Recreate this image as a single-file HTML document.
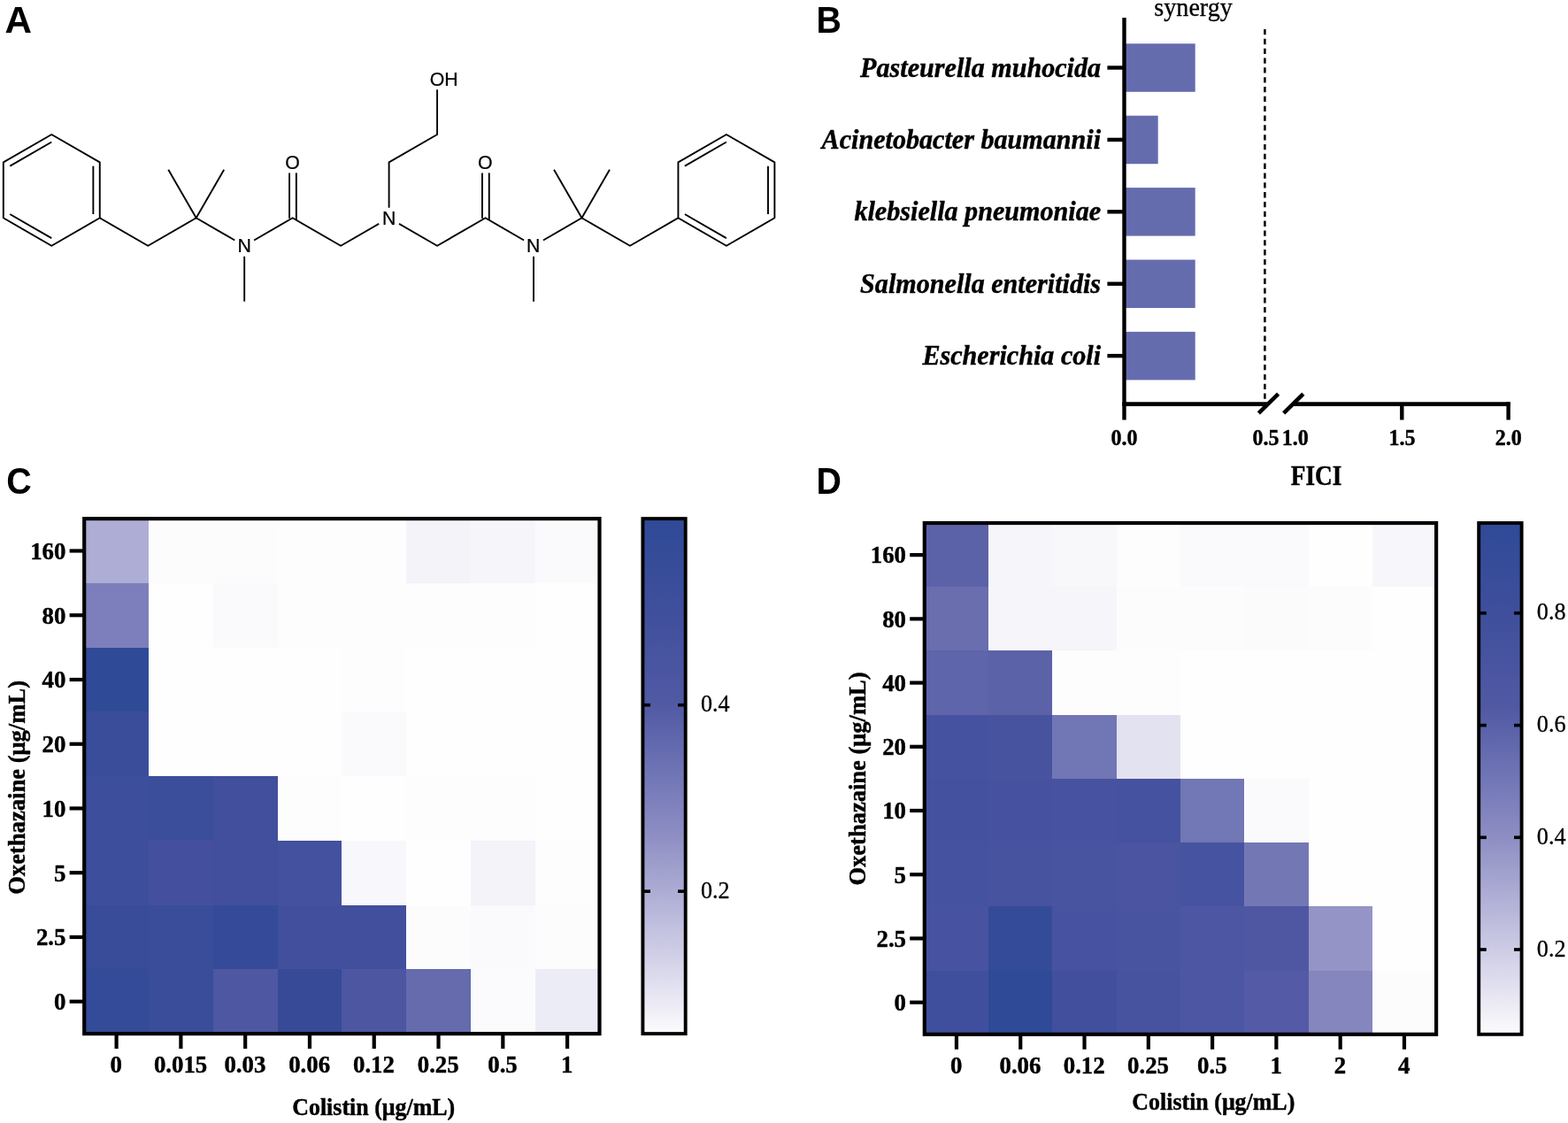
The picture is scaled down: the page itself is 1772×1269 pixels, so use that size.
<!DOCTYPE html>
<html lang="en">
<head>
<meta charset="utf-8">
<title>Figure</title>
<style>
html,body{margin:0;padding:0;background:#fff;}
body{width:1772px;height:1269px;overflow:hidden;}
svg{display:block;}
text{fill:#000;}
</style>
</head>
<body>
<svg width="1772" height="1269" viewBox="0 0 1772 1269">
<rect width="1772" height="1269" fill="#fff"/>
<text transform="translate(5.6 37)" font-family='"Liberation Sans", sans-serif' font-size="42.2" font-weight="bold" font-style="normal" text-anchor="start">A</text>
<text transform="translate(922.4 37) scale(0.932 1)" font-family='"Liberation Sans", sans-serif' font-size="42.2" font-weight="bold" font-style="normal" text-anchor="start">B</text>
<text transform="translate(7.2 558.4) scale(0.935 1)" font-family='"Liberation Sans", sans-serif' font-size="42.2" font-weight="bold" font-style="normal" text-anchor="start">C</text>
<text transform="translate(922.4 557.7) scale(0.932 1)" font-family='"Liberation Sans", sans-serif' font-size="42.2" font-weight="bold" font-style="normal" text-anchor="start">D</text>
<g stroke="#000" stroke-width="1.9" stroke-linecap="butt" stroke-linejoin="round" fill="none">
<path d="M428.17 252.9L385.13 277.75L330.65 246.3L287.09 271.45"/>
<path d="M265.27 271.45L221.71 246.3L167.24 277.75L112.76 246.3"/>
<path d="M190.26 191.83L221.71 246.3L253.16 191.83"/>
<path d="M276.18 289.75L276.18 340.65"/>
<path d="M327.05 246.7L327.05 195.4"/>
<path d="M334.85 248.3L334.85 195.4"/>
<path d="M451.03 252.9L494.07 277.75L548.55 246.3L592.11 271.45"/>
<path d="M613.93 271.45L657.49 246.3L711.96 277.75L766.44 246.3"/>
<path d="M626.04 191.83L657.49 246.3L688.94 191.83"/>
<path d="M603.02 289.75L603.02 340.65"/>
<path d="M544.95 246.7L544.95 195.4"/>
<path d="M552.75 248.3L552.75 195.4"/>
<path d="M58.29 151.95L112.76 183.4L112.76 246.3L58.29 277.75L3.82 246.3L3.82 183.4Z"/>
<path d="M11.24 187.66L58.27 160.51"/>
<path d="M105.36 187.7L105.36 242"/>
<path d="M58.27 269.19L11.24 242.04"/>
<path d="M820.91 151.95L875.38 183.4L875.38 246.3L820.91 277.75L766.44 246.3L766.44 183.4Z"/>
<path d="M773.86 187.66L820.89 160.51"/>
<path d="M867.98 187.7L867.98 242"/>
<path d="M820.89 269.19L773.86 242.04"/>
<path d="M439.6 234.7L439.6 183.4L494.07 151.95L494.07 101.25"/>
</g>
<text stroke="#000" stroke-width="0.25" stroke-linejoin="round" transform="translate(439.6 254) scale(0.955 1)" font-family='"Liberation Sans", sans-serif' font-size="22.3" font-weight="normal" font-style="normal" text-anchor="middle">N</text>
<text stroke="#000" stroke-width="0.25" stroke-linejoin="round" transform="translate(276.28 285) scale(0.955 1)" font-family='"Liberation Sans", sans-serif' font-size="22.3" font-weight="normal" font-style="normal" text-anchor="middle">N</text>
<text stroke="#000" stroke-width="0.25" stroke-linejoin="round" transform="translate(602.72 285) scale(0.955 1)" font-family='"Liberation Sans", sans-serif' font-size="22.3" font-weight="normal" font-style="normal" text-anchor="middle">N</text>
<text stroke="#000" stroke-width="0.25" stroke-linejoin="round" transform="translate(330.65 191) scale(0.955 1)" font-family='"Liberation Sans", sans-serif' font-size="22.3" font-weight="normal" font-style="normal" text-anchor="middle">O</text>
<text stroke="#000" stroke-width="0.25" stroke-linejoin="round" transform="translate(548.35 191) scale(0.955 1)" font-family='"Liberation Sans", sans-serif' font-size="22.3" font-weight="normal" font-style="normal" text-anchor="middle">O</text>
<text stroke="#000" stroke-width="0.25" stroke-linejoin="round" transform="translate(485.77 97) scale(0.955 1)" font-family='"Liberation Sans", sans-serif' font-size="22.3" font-weight="normal" font-style="normal" text-anchor="start">OH</text>
<rect x="1272" y="49.3" width="78.7" height="54.5" fill="#656cae"/>
<rect x="1272" y="130.7" width="36.7" height="54.5" fill="#656cae"/>
<rect x="1272" y="212.1" width="78.7" height="54.5" fill="#656cae"/>
<rect x="1272" y="293.5" width="78.7" height="54.5" fill="#656cae"/>
<rect x="1272" y="374.9" width="78.7" height="54.5" fill="#656cae"/>
<line x1="1429.4" y1="33" x2="1429.4" y2="452" stroke="#000" stroke-width="2.5" stroke-dasharray="6.3 4.53"/>
<line x1="1270.5" y1="19.9" x2="1270.5" y2="474.5" stroke="#000" stroke-width="4.4" stroke-linecap="butt"/>
<line x1="1268.3" y1="456.6" x2="1432" y2="456.6" stroke="#000" stroke-width="4.6" stroke-linecap="butt"/>
<line x1="1461" y1="456.6" x2="1706.8" y2="456.6" stroke="#000" stroke-width="4.6" stroke-linecap="butt"/>
<line x1="1584.3" y1="456.6" x2="1584.3" y2="474.5" stroke="#000" stroke-width="4.4" stroke-linecap="butt"/>
<line x1="1704.6" y1="454.3" x2="1704.6" y2="474.5" stroke="#000" stroke-width="4.4" stroke-linecap="butt"/>
<line x1="1422.4" y1="466.9" x2="1444.6" y2="445.1" stroke="#000" stroke-width="4.6" stroke-linecap="butt"/>
<line x1="1450.7" y1="466.9" x2="1472.8" y2="445.1" stroke="#000" stroke-width="4.6" stroke-linecap="butt"/>
<line x1="1251.4" y1="76.5" x2="1270" y2="76.5" stroke="#000" stroke-width="4.4" stroke-linecap="butt"/>
<text stroke="#000" stroke-width="0.45" stroke-linejoin="round" transform="translate(1244.1 86.5) scale(0.936 1)" font-family='"Liberation Serif", serif' font-size="32.2" font-weight="bold" font-style="italic" text-anchor="end">Pasteurella muhocida</text>
<line x1="1251.4" y1="157.9" x2="1270" y2="157.9" stroke="#000" stroke-width="4.4" stroke-linecap="butt"/>
<text stroke="#000" stroke-width="0.45" stroke-linejoin="round" transform="translate(1244.1 167.9) scale(0.936 1)" font-family='"Liberation Serif", serif' font-size="32.2" font-weight="bold" font-style="italic" text-anchor="end">Acinetobacter baumannii</text>
<line x1="1251.4" y1="239.3" x2="1270" y2="239.3" stroke="#000" stroke-width="4.4" stroke-linecap="butt"/>
<text stroke="#000" stroke-width="0.45" stroke-linejoin="round" transform="translate(1244.1 249.3) scale(0.936 1)" font-family='"Liberation Serif", serif' font-size="32.2" font-weight="bold" font-style="italic" text-anchor="end">klebsiella pneumoniae</text>
<line x1="1251.4" y1="320.7" x2="1270" y2="320.7" stroke="#000" stroke-width="4.4" stroke-linecap="butt"/>
<text stroke="#000" stroke-width="0.45" stroke-linejoin="round" transform="translate(1244.1 330.7) scale(0.936 1)" font-family='"Liberation Serif", serif' font-size="32.2" font-weight="bold" font-style="italic" text-anchor="end">Salmonella enteritidis</text>
<line x1="1251.4" y1="402.1" x2="1270" y2="402.1" stroke="#000" stroke-width="4.4" stroke-linecap="butt"/>
<text stroke="#000" stroke-width="0.45" stroke-linejoin="round" transform="translate(1244.1 412.1) scale(0.936 1)" font-family='"Liberation Serif", serif' font-size="32.2" font-weight="bold" font-style="italic" text-anchor="end">Escherichia coli</text>
<text stroke="#000" stroke-width="0.45" stroke-linejoin="round" transform="translate(1270.5 502.5) scale(0.925 1)" font-family='"Liberation Serif", serif' font-size="26" font-weight="bold" font-style="normal" text-anchor="middle">0.0</text>
<text stroke="#000" stroke-width="0.45" stroke-linejoin="round" transform="translate(1430.6 502.5) scale(0.925 1)" font-family='"Liberation Serif", serif' font-size="26" font-weight="bold" font-style="normal" text-anchor="middle">0.5</text>
<text stroke="#000" stroke-width="0.45" stroke-linejoin="round" transform="translate(1463.8 502.5) scale(0.925 1)" font-family='"Liberation Serif", serif' font-size="26" font-weight="bold" font-style="normal" text-anchor="middle">1.0</text>
<text stroke="#000" stroke-width="0.45" stroke-linejoin="round" transform="translate(1584.6 502.5) scale(0.925 1)" font-family='"Liberation Serif", serif' font-size="26" font-weight="bold" font-style="normal" text-anchor="middle">1.5</text>
<text stroke="#000" stroke-width="0.45" stroke-linejoin="round" transform="translate(1704.8 502.5) scale(0.925 1)" font-family='"Liberation Serif", serif' font-size="26" font-weight="bold" font-style="normal" text-anchor="middle">2.0</text>
<text stroke="#000" stroke-width="0.45" stroke-linejoin="round" transform="translate(1487.6 547.7) scale(0.885 1)" font-family='"Liberation Serif", serif' font-size="30.8" font-weight="bold" font-style="normal" text-anchor="middle">FICI</text>
<text stroke="#000" stroke-width="0.3" stroke-linejoin="round" transform="translate(1348.6 17.6) scale(0.937 1)" font-family='"Liberation Serif", serif' font-size="30" font-weight="normal" font-style="normal" text-anchor="middle">synergy</text>
<defs><linearGradient id="gr" x1="0" y1="0" x2="0" y2="1">
<stop offset="0" stop-color="#2f4a97"/>
<stop offset="0.18" stop-color="#3f4f9c"/>
<stop offset="0.36" stop-color="#5159a4"/>
<stop offset="0.5" stop-color="#7176b6"/>
<stop offset="0.62" stop-color="#8f8fc4"/>
<stop offset="0.72" stop-color="#acabd4"/>
<stop offset="0.85" stop-color="#d1d0e7"/>
<stop offset="0.93" stop-color="#e8e7f3"/>
<stop offset="1" stop-color="#fcfcfe"/>
</linearGradient></defs>
<g shape-rendering="crispEdges">
<rect x="95.2" y="586.1" width="73.29" height="73.25" fill="#adadd5"/>
<rect x="167.99" y="586.1" width="73.29" height="73.25" fill="#fcfcfd"/>
<rect x="240.77" y="586.1" width="73.29" height="73.25" fill="#fcfcfd"/>
<rect x="313.56" y="586.1" width="73.29" height="73.25" fill="#fdfdfd"/>
<rect x="386.35" y="586.1" width="73.29" height="73.25" fill="#fdfdfd"/>
<rect x="459.14" y="586.1" width="73.29" height="73.25" fill="#f3f3f9"/>
<rect x="531.92" y="586.1" width="73.29" height="73.25" fill="#f6f6fa"/>
<rect x="604.71" y="586.1" width="73.29" height="73.25" fill="#fafafc"/>
<rect x="95.2" y="658.85" width="73.29" height="73.25" fill="#7c7fbb"/>
<rect x="167.99" y="658.85" width="73.29" height="73.25" fill="#fefefe"/>
<rect x="240.77" y="658.85" width="73.29" height="73.25" fill="#fafafc"/>
<rect x="313.56" y="658.85" width="73.29" height="73.25" fill="#fdfdfd"/>
<rect x="386.35" y="658.85" width="73.29" height="73.25" fill="#fdfdfd"/>
<rect x="459.14" y="658.85" width="73.29" height="73.25" fill="#fdfdfd"/>
<rect x="531.92" y="658.85" width="73.29" height="73.25" fill="#fdfdfd"/>
<rect x="604.71" y="658.85" width="73.29" height="73.25" fill="#fefefe"/>
<rect x="95.2" y="731.6" width="73.29" height="73.25" fill="#2f4a97"/>
<rect x="167.99" y="731.6" width="73.29" height="73.25" fill="#fefefe"/>
<rect x="240.77" y="731.6" width="73.29" height="73.25" fill="#fefefe"/>
<rect x="313.56" y="731.6" width="73.29" height="73.25" fill="#fefefe"/>
<rect x="386.35" y="731.6" width="73.29" height="73.25" fill="#fdfdfd"/>
<rect x="459.14" y="731.6" width="73.29" height="73.25" fill="#fefefe"/>
<rect x="531.92" y="731.6" width="73.29" height="73.25" fill="#fefefe"/>
<rect x="604.71" y="731.6" width="73.29" height="73.25" fill="#fefefe"/>
<rect x="95.2" y="804.35" width="73.29" height="73.25" fill="#3a4d9b"/>
<rect x="167.99" y="804.35" width="73.29" height="73.25" fill="#fefefe"/>
<rect x="240.77" y="804.35" width="73.29" height="73.25" fill="#fefefe"/>
<rect x="313.56" y="804.35" width="73.29" height="73.25" fill="#fefefe"/>
<rect x="386.35" y="804.35" width="73.29" height="73.25" fill="#fafafc"/>
<rect x="459.14" y="804.35" width="73.29" height="73.25" fill="#fefefe"/>
<rect x="531.92" y="804.35" width="73.29" height="73.25" fill="#fefefe"/>
<rect x="604.71" y="804.35" width="73.29" height="73.25" fill="#fefefe"/>
<rect x="95.2" y="877.1" width="73.29" height="73.25" fill="#3c4e9c"/>
<rect x="167.99" y="877.1" width="73.29" height="73.25" fill="#3b4e9c"/>
<rect x="240.77" y="877.1" width="73.29" height="73.25" fill="#414f9d"/>
<rect x="313.56" y="877.1" width="73.29" height="73.25" fill="#fdfdfd"/>
<rect x="386.35" y="877.1" width="73.29" height="73.25" fill="#fefefe"/>
<rect x="459.14" y="877.1" width="73.29" height="73.25" fill="#fdfdfd"/>
<rect x="531.92" y="877.1" width="73.29" height="73.25" fill="#fdfdfd"/>
<rect x="604.71" y="877.1" width="73.29" height="73.25" fill="#fefefe"/>
<rect x="95.2" y="949.85" width="73.29" height="73.25" fill="#3c4e9c"/>
<rect x="167.99" y="949.85" width="73.29" height="73.25" fill="#44509e"/>
<rect x="240.77" y="949.85" width="73.29" height="73.25" fill="#424f9d"/>
<rect x="313.56" y="949.85" width="73.29" height="73.25" fill="#43519e"/>
<rect x="386.35" y="949.85" width="73.29" height="73.25" fill="#f8f8fc"/>
<rect x="459.14" y="949.85" width="73.29" height="73.25" fill="#fefefe"/>
<rect x="531.92" y="949.85" width="73.29" height="73.25" fill="#f3f3f9"/>
<rect x="604.71" y="949.85" width="73.29" height="73.25" fill="#fdfdfd"/>
<rect x="95.2" y="1022.6" width="73.29" height="73.25" fill="#384c9a"/>
<rect x="167.99" y="1022.6" width="73.29" height="73.25" fill="#3a4d9b"/>
<rect x="240.77" y="1022.6" width="73.29" height="73.25" fill="#354b99"/>
<rect x="313.56" y="1022.6" width="73.29" height="73.25" fill="#414f9d"/>
<rect x="386.35" y="1022.6" width="73.29" height="73.25" fill="#424f9d"/>
<rect x="459.14" y="1022.6" width="73.29" height="73.25" fill="#fcfcfd"/>
<rect x="531.92" y="1022.6" width="73.29" height="73.25" fill="#fafafc"/>
<rect x="604.71" y="1022.6" width="73.29" height="73.25" fill="#fcfcfc"/>
<rect x="95.2" y="1095.35" width="73.29" height="73.25" fill="#344b99"/>
<rect x="167.99" y="1095.35" width="73.29" height="73.25" fill="#394d9b"/>
<rect x="240.77" y="1095.35" width="73.29" height="73.25" fill="#4e57a1"/>
<rect x="313.56" y="1095.35" width="73.29" height="73.25" fill="#364a98"/>
<rect x="386.35" y="1095.35" width="73.29" height="73.25" fill="#4d56a0"/>
<rect x="459.14" y="1095.35" width="73.29" height="73.25" fill="#656bad"/>
<rect x="531.92" y="1095.35" width="73.29" height="73.25" fill="#fbfbfd"/>
<rect x="604.71" y="1095.35" width="73.29" height="73.25" fill="#ececf6"/>
</g>
<rect x="95.2" y="586.1" width="582.3" height="582" fill="none" stroke="#000" stroke-width="4.2"/>
<line x1="131.59" y1="1169.6" x2="131.59" y2="1185.1" stroke="#000" stroke-width="4.2" stroke-linecap="butt"/>
<text stroke="#000" stroke-width="0.45" stroke-linejoin="round" transform="translate(131.29 1212.2)" font-family='"Liberation Serif", serif' font-size="26.8" font-weight="bold" font-style="normal" text-anchor="middle">0</text>
<line x1="78.6" y1="622.48" x2="93.7" y2="622.48" stroke="#000" stroke-width="4.2" stroke-linecap="butt"/>
<text stroke="#000" stroke-width="0.45" stroke-linejoin="round" transform="translate(74.4 631.77)" font-family='"Liberation Serif", serif' font-size="26.8" font-weight="bold" font-style="normal" text-anchor="end">160</text>
<line x1="204.38" y1="1169.6" x2="204.38" y2="1185.1" stroke="#000" stroke-width="4.2" stroke-linecap="butt"/>
<text stroke="#000" stroke-width="0.45" stroke-linejoin="round" transform="translate(204.08 1212.2)" font-family='"Liberation Serif", serif' font-size="26.8" font-weight="bold" font-style="normal" text-anchor="middle">0.015</text>
<line x1="78.6" y1="695.23" x2="93.7" y2="695.23" stroke="#000" stroke-width="4.2" stroke-linecap="butt"/>
<text stroke="#000" stroke-width="0.45" stroke-linejoin="round" transform="translate(74.4 704.52)" font-family='"Liberation Serif", serif' font-size="26.8" font-weight="bold" font-style="normal" text-anchor="end">80</text>
<line x1="277.17" y1="1169.6" x2="277.17" y2="1185.1" stroke="#000" stroke-width="4.2" stroke-linecap="butt"/>
<text stroke="#000" stroke-width="0.45" stroke-linejoin="round" transform="translate(276.87 1212.2)" font-family='"Liberation Serif", serif' font-size="26.8" font-weight="bold" font-style="normal" text-anchor="middle">0.03</text>
<line x1="78.6" y1="767.98" x2="93.7" y2="767.98" stroke="#000" stroke-width="4.2" stroke-linecap="butt"/>
<text stroke="#000" stroke-width="0.45" stroke-linejoin="round" transform="translate(74.4 777.27)" font-family='"Liberation Serif", serif' font-size="26.8" font-weight="bold" font-style="normal" text-anchor="end">40</text>
<line x1="349.96" y1="1169.6" x2="349.96" y2="1185.1" stroke="#000" stroke-width="4.2" stroke-linecap="butt"/>
<text stroke="#000" stroke-width="0.45" stroke-linejoin="round" transform="translate(349.66 1212.2)" font-family='"Liberation Serif", serif' font-size="26.8" font-weight="bold" font-style="normal" text-anchor="middle">0.06</text>
<line x1="78.6" y1="840.72" x2="93.7" y2="840.72" stroke="#000" stroke-width="4.2" stroke-linecap="butt"/>
<text stroke="#000" stroke-width="0.45" stroke-linejoin="round" transform="translate(74.4 850.02)" font-family='"Liberation Serif", serif' font-size="26.8" font-weight="bold" font-style="normal" text-anchor="end">20</text>
<line x1="422.74" y1="1169.6" x2="422.74" y2="1185.1" stroke="#000" stroke-width="4.2" stroke-linecap="butt"/>
<text stroke="#000" stroke-width="0.45" stroke-linejoin="round" transform="translate(422.44 1212.2)" font-family='"Liberation Serif", serif' font-size="26.8" font-weight="bold" font-style="normal" text-anchor="middle">0.12</text>
<line x1="78.6" y1="913.47" x2="93.7" y2="913.47" stroke="#000" stroke-width="4.2" stroke-linecap="butt"/>
<text stroke="#000" stroke-width="0.45" stroke-linejoin="round" transform="translate(74.4 922.77)" font-family='"Liberation Serif", serif' font-size="26.8" font-weight="bold" font-style="normal" text-anchor="end">10</text>
<line x1="495.53" y1="1169.6" x2="495.53" y2="1185.1" stroke="#000" stroke-width="4.2" stroke-linecap="butt"/>
<text stroke="#000" stroke-width="0.45" stroke-linejoin="round" transform="translate(495.23 1212.2)" font-family='"Liberation Serif", serif' font-size="26.8" font-weight="bold" font-style="normal" text-anchor="middle">0.25</text>
<line x1="78.6" y1="986.22" x2="93.7" y2="986.22" stroke="#000" stroke-width="4.2" stroke-linecap="butt"/>
<text stroke="#000" stroke-width="0.45" stroke-linejoin="round" transform="translate(74.4 995.52)" font-family='"Liberation Serif", serif' font-size="26.8" font-weight="bold" font-style="normal" text-anchor="end">5</text>
<line x1="568.32" y1="1169.6" x2="568.32" y2="1185.1" stroke="#000" stroke-width="4.2" stroke-linecap="butt"/>
<text stroke="#000" stroke-width="0.45" stroke-linejoin="round" transform="translate(568.02 1212.2)" font-family='"Liberation Serif", serif' font-size="26.8" font-weight="bold" font-style="normal" text-anchor="middle">0.5</text>
<line x1="78.6" y1="1058.97" x2="93.7" y2="1058.97" stroke="#000" stroke-width="4.2" stroke-linecap="butt"/>
<text stroke="#000" stroke-width="0.45" stroke-linejoin="round" transform="translate(74.4 1068.27)" font-family='"Liberation Serif", serif' font-size="26.8" font-weight="bold" font-style="normal" text-anchor="end">2.5</text>
<line x1="641.11" y1="1169.6" x2="641.11" y2="1185.1" stroke="#000" stroke-width="4.2" stroke-linecap="butt"/>
<text stroke="#000" stroke-width="0.45" stroke-linejoin="round" transform="translate(640.81 1212.2)" font-family='"Liberation Serif", serif' font-size="26.8" font-weight="bold" font-style="normal" text-anchor="middle">1</text>
<line x1="78.6" y1="1131.72" x2="93.7" y2="1131.72" stroke="#000" stroke-width="4.2" stroke-linecap="butt"/>
<text stroke="#000" stroke-width="0.45" stroke-linejoin="round" transform="translate(74.4 1141.02)" font-family='"Liberation Serif", serif' font-size="26.8" font-weight="bold" font-style="normal" text-anchor="end">0</text>
<rect x="726.4" y="586.1" width="48.3" height="582" fill="url(#gr)" stroke="#000" stroke-width="3.9"/>
<line x1="727.9" y1="796.7" x2="735" y2="796.7" stroke="#000" stroke-width="3.6" stroke-linecap="butt"/>
<line x1="766.1" y1="796.7" x2="773.2" y2="796.7" stroke="#000" stroke-width="3.6" stroke-linecap="butt"/>
<text stroke="#000" stroke-width="0.3" stroke-linejoin="round" transform="translate(791.9 804) scale(0.985 1)" font-family='"Liberation Serif", serif' font-size="26.6" font-weight="normal" font-style="normal" text-anchor="start">0.4</text>
<line x1="727.9" y1="1007.2" x2="735" y2="1007.2" stroke="#000" stroke-width="3.6" stroke-linecap="butt"/>
<line x1="766.1" y1="1007.2" x2="773.2" y2="1007.2" stroke="#000" stroke-width="3.6" stroke-linecap="butt"/>
<text stroke="#000" stroke-width="0.3" stroke-linejoin="round" transform="translate(791.9 1015) scale(0.985 1)" font-family='"Liberation Serif", serif' font-size="26.6" font-weight="normal" font-style="normal" text-anchor="start">0.2</text>
<text stroke="#000" stroke-width="0.45" stroke-linejoin="round" transform="translate(422.2 1259.8) scale(0.968 1)" font-family='"Liberation Serif", serif' font-size="26.8" font-weight="bold" font-style="normal" text-anchor="middle">Colistin (μg/mL)</text>
<text stroke="#000" stroke-width="0.45" stroke-linejoin="round" transform="translate(27.7 889.9) rotate(-90) scale(0.993 1)" font-family='"Liberation Serif", serif' font-size="26.8" font-weight="bold" font-style="normal" text-anchor="middle">Oxethazaine (μg/mL)</text>
<g shape-rendering="crispEdges">
<rect x="1044.8" y="591" width="72.79" height="72.72" fill="#5b62a8"/>
<rect x="1117.09" y="591" width="72.79" height="72.72" fill="#f6f6fa"/>
<rect x="1189.38" y="591" width="72.79" height="72.72" fill="#f8f8fb"/>
<rect x="1261.66" y="591" width="72.79" height="72.72" fill="#fdfdfd"/>
<rect x="1333.95" y="591" width="72.79" height="72.72" fill="#fafafc"/>
<rect x="1406.24" y="591" width="72.79" height="72.72" fill="#fafafc"/>
<rect x="1478.52" y="591" width="72.79" height="72.72" fill="#fefefe"/>
<rect x="1550.81" y="591" width="72.79" height="72.72" fill="#f7f7fb"/>
<rect x="1044.8" y="663.23" width="72.79" height="72.72" fill="#6a6dae"/>
<rect x="1117.09" y="663.23" width="72.79" height="72.72" fill="#f6f6fa"/>
<rect x="1189.38" y="663.23" width="72.79" height="72.72" fill="#f5f5fa"/>
<rect x="1261.66" y="663.23" width="72.79" height="72.72" fill="#fcfcfc"/>
<rect x="1333.95" y="663.23" width="72.79" height="72.72" fill="#fcfcfc"/>
<rect x="1406.24" y="663.23" width="72.79" height="72.72" fill="#fbfbfc"/>
<rect x="1478.52" y="663.23" width="72.79" height="72.72" fill="#fcfcfc"/>
<rect x="1550.81" y="663.23" width="72.79" height="72.72" fill="#fefefe"/>
<rect x="1044.8" y="735.45" width="72.79" height="72.72" fill="#5f65aa"/>
<rect x="1117.09" y="735.45" width="72.79" height="72.72" fill="#5b62a8"/>
<rect x="1189.38" y="735.45" width="72.79" height="72.72" fill="#fdfdfd"/>
<rect x="1261.66" y="735.45" width="72.79" height="72.72" fill="#fdfdfd"/>
<rect x="1333.95" y="735.45" width="72.79" height="72.72" fill="#fefefe"/>
<rect x="1406.24" y="735.45" width="72.79" height="72.72" fill="#fefefe"/>
<rect x="1478.52" y="735.45" width="72.79" height="72.72" fill="#fefefe"/>
<rect x="1550.81" y="735.45" width="72.79" height="72.72" fill="#fefefe"/>
<rect x="1044.8" y="807.67" width="72.79" height="72.72" fill="#45529f"/>
<rect x="1117.09" y="807.67" width="72.79" height="72.72" fill="#47539f"/>
<rect x="1189.38" y="807.67" width="72.79" height="72.72" fill="#7176b4"/>
<rect x="1261.66" y="807.67" width="72.79" height="72.72" fill="#e3e2f0"/>
<rect x="1333.95" y="807.67" width="72.79" height="72.72" fill="#fefefe"/>
<rect x="1406.24" y="807.67" width="72.79" height="72.72" fill="#fefefe"/>
<rect x="1478.52" y="807.67" width="72.79" height="72.72" fill="#fefefe"/>
<rect x="1550.81" y="807.67" width="72.79" height="72.72" fill="#fefefe"/>
<rect x="1044.8" y="879.9" width="72.79" height="72.72" fill="#44519e"/>
<rect x="1117.09" y="879.9" width="72.79" height="72.72" fill="#46529f"/>
<rect x="1189.38" y="879.9" width="72.79" height="72.72" fill="#4753a0"/>
<rect x="1261.66" y="879.9" width="72.79" height="72.72" fill="#45529f"/>
<rect x="1333.95" y="879.9" width="72.79" height="72.72" fill="#7277b5"/>
<rect x="1406.24" y="879.9" width="72.79" height="72.72" fill="#fafafc"/>
<rect x="1478.52" y="879.9" width="72.79" height="72.72" fill="#fefefe"/>
<rect x="1550.81" y="879.9" width="72.79" height="72.72" fill="#fefefe"/>
<rect x="1044.8" y="952.12" width="72.79" height="72.72" fill="#45529f"/>
<rect x="1117.09" y="952.12" width="72.79" height="72.72" fill="#4853a0"/>
<rect x="1189.38" y="952.12" width="72.79" height="72.72" fill="#4854a0"/>
<rect x="1261.66" y="952.12" width="72.79" height="72.72" fill="#4a54a1"/>
<rect x="1333.95" y="952.12" width="72.79" height="72.72" fill="#4653a0"/>
<rect x="1406.24" y="952.12" width="72.79" height="72.72" fill="#7378b5"/>
<rect x="1478.52" y="952.12" width="72.79" height="72.72" fill="#fefefe"/>
<rect x="1550.81" y="952.12" width="72.79" height="72.72" fill="#fefefe"/>
<rect x="1044.8" y="1024.35" width="72.79" height="72.72" fill="#4753a0"/>
<rect x="1117.09" y="1024.35" width="72.79" height="72.72" fill="#344b99"/>
<rect x="1189.38" y="1024.35" width="72.79" height="72.72" fill="#4753a0"/>
<rect x="1261.66" y="1024.35" width="72.79" height="72.72" fill="#4854a0"/>
<rect x="1333.95" y="1024.35" width="72.79" height="72.72" fill="#4d56a2"/>
<rect x="1406.24" y="1024.35" width="72.79" height="72.72" fill="#4f57a2"/>
<rect x="1478.52" y="1024.35" width="72.79" height="72.72" fill="#9594c6"/>
<rect x="1550.81" y="1024.35" width="72.79" height="72.72" fill="#fefefe"/>
<rect x="1044.8" y="1096.57" width="72.79" height="72.72" fill="#404f9d"/>
<rect x="1117.09" y="1096.57" width="72.79" height="72.72" fill="#2f4a97"/>
<rect x="1189.38" y="1096.57" width="72.79" height="72.72" fill="#424f9d"/>
<rect x="1261.66" y="1096.57" width="72.79" height="72.72" fill="#48539f"/>
<rect x="1333.95" y="1096.57" width="72.79" height="72.72" fill="#4d56a2"/>
<rect x="1406.24" y="1096.57" width="72.79" height="72.72" fill="#545aa5"/>
<rect x="1478.52" y="1096.57" width="72.79" height="72.72" fill="#8486bd"/>
<rect x="1550.81" y="1096.57" width="72.79" height="72.72" fill="#fcfcfc"/>
</g>
<rect x="1044.8" y="591.0" width="578.3" height="577.8" fill="none" stroke="#000" stroke-width="4.2"/>
<line x1="1080.94" y1="1170.3" x2="1080.94" y2="1185.8" stroke="#000" stroke-width="4.2" stroke-linecap="butt"/>
<text stroke="#000" stroke-width="0.45" stroke-linejoin="round" transform="translate(1080.64 1212.9)" font-family='"Liberation Serif", serif' font-size="26.8" font-weight="bold" font-style="normal" text-anchor="middle">0</text>
<line x1="1028.2" y1="627.11" x2="1043.3" y2="627.11" stroke="#000" stroke-width="4.2" stroke-linecap="butt"/>
<text stroke="#000" stroke-width="0.45" stroke-linejoin="round" transform="translate(1024 636.41)" font-family='"Liberation Serif", serif' font-size="26.8" font-weight="bold" font-style="normal" text-anchor="end">160</text>
<line x1="1153.23" y1="1170.3" x2="1153.23" y2="1185.8" stroke="#000" stroke-width="4.2" stroke-linecap="butt"/>
<text stroke="#000" stroke-width="0.45" stroke-linejoin="round" transform="translate(1152.93 1212.9)" font-family='"Liberation Serif", serif' font-size="26.8" font-weight="bold" font-style="normal" text-anchor="middle">0.06</text>
<line x1="1028.2" y1="699.34" x2="1043.3" y2="699.34" stroke="#000" stroke-width="4.2" stroke-linecap="butt"/>
<text stroke="#000" stroke-width="0.45" stroke-linejoin="round" transform="translate(1024 708.64)" font-family='"Liberation Serif", serif' font-size="26.8" font-weight="bold" font-style="normal" text-anchor="end">80</text>
<line x1="1225.52" y1="1170.3" x2="1225.52" y2="1185.8" stroke="#000" stroke-width="4.2" stroke-linecap="butt"/>
<text stroke="#000" stroke-width="0.45" stroke-linejoin="round" transform="translate(1225.22 1212.9)" font-family='"Liberation Serif", serif' font-size="26.8" font-weight="bold" font-style="normal" text-anchor="middle">0.12</text>
<line x1="1028.2" y1="771.56" x2="1043.3" y2="771.56" stroke="#000" stroke-width="4.2" stroke-linecap="butt"/>
<text stroke="#000" stroke-width="0.45" stroke-linejoin="round" transform="translate(1024 780.86)" font-family='"Liberation Serif", serif' font-size="26.8" font-weight="bold" font-style="normal" text-anchor="end">40</text>
<line x1="1297.81" y1="1170.3" x2="1297.81" y2="1185.8" stroke="#000" stroke-width="4.2" stroke-linecap="butt"/>
<text stroke="#000" stroke-width="0.45" stroke-linejoin="round" transform="translate(1297.51 1212.9)" font-family='"Liberation Serif", serif' font-size="26.8" font-weight="bold" font-style="normal" text-anchor="middle">0.25</text>
<line x1="1028.2" y1="843.79" x2="1043.3" y2="843.79" stroke="#000" stroke-width="4.2" stroke-linecap="butt"/>
<text stroke="#000" stroke-width="0.45" stroke-linejoin="round" transform="translate(1024 853.09)" font-family='"Liberation Serif", serif' font-size="26.8" font-weight="bold" font-style="normal" text-anchor="end">20</text>
<line x1="1370.09" y1="1170.3" x2="1370.09" y2="1185.8" stroke="#000" stroke-width="4.2" stroke-linecap="butt"/>
<text stroke="#000" stroke-width="0.45" stroke-linejoin="round" transform="translate(1369.79 1212.9)" font-family='"Liberation Serif", serif' font-size="26.8" font-weight="bold" font-style="normal" text-anchor="middle">0.5</text>
<line x1="1028.2" y1="916.01" x2="1043.3" y2="916.01" stroke="#000" stroke-width="4.2" stroke-linecap="butt"/>
<text stroke="#000" stroke-width="0.45" stroke-linejoin="round" transform="translate(1024 925.31)" font-family='"Liberation Serif", serif' font-size="26.8" font-weight="bold" font-style="normal" text-anchor="end">10</text>
<line x1="1442.38" y1="1170.3" x2="1442.38" y2="1185.8" stroke="#000" stroke-width="4.2" stroke-linecap="butt"/>
<text stroke="#000" stroke-width="0.45" stroke-linejoin="round" transform="translate(1442.08 1212.9)" font-family='"Liberation Serif", serif' font-size="26.8" font-weight="bold" font-style="normal" text-anchor="middle">1</text>
<line x1="1028.2" y1="988.24" x2="1043.3" y2="988.24" stroke="#000" stroke-width="4.2" stroke-linecap="butt"/>
<text stroke="#000" stroke-width="0.45" stroke-linejoin="round" transform="translate(1024 997.54)" font-family='"Liberation Serif", serif' font-size="26.8" font-weight="bold" font-style="normal" text-anchor="end">5</text>
<line x1="1514.67" y1="1170.3" x2="1514.67" y2="1185.8" stroke="#000" stroke-width="4.2" stroke-linecap="butt"/>
<text stroke="#000" stroke-width="0.45" stroke-linejoin="round" transform="translate(1514.37 1212.9)" font-family='"Liberation Serif", serif' font-size="26.8" font-weight="bold" font-style="normal" text-anchor="middle">2</text>
<line x1="1028.2" y1="1060.46" x2="1043.3" y2="1060.46" stroke="#000" stroke-width="4.2" stroke-linecap="butt"/>
<text stroke="#000" stroke-width="0.45" stroke-linejoin="round" transform="translate(1024 1069.76)" font-family='"Liberation Serif", serif' font-size="26.8" font-weight="bold" font-style="normal" text-anchor="end">2.5</text>
<line x1="1586.96" y1="1170.3" x2="1586.96" y2="1185.8" stroke="#000" stroke-width="4.2" stroke-linecap="butt"/>
<text stroke="#000" stroke-width="0.45" stroke-linejoin="round" transform="translate(1586.66 1212.9)" font-family='"Liberation Serif", serif' font-size="26.8" font-weight="bold" font-style="normal" text-anchor="middle">4</text>
<line x1="1028.2" y1="1132.69" x2="1043.3" y2="1132.69" stroke="#000" stroke-width="4.2" stroke-linecap="butt"/>
<text stroke="#000" stroke-width="0.45" stroke-linejoin="round" transform="translate(1024 1141.99)" font-family='"Liberation Serif", serif' font-size="26.8" font-weight="bold" font-style="normal" text-anchor="end">0</text>
<rect x="1671.2" y="591.0" width="48.4" height="577.8" fill="url(#gr)" stroke="#000" stroke-width="3.9"/>
<line x1="1672.7" y1="692.8" x2="1679.8" y2="692.8" stroke="#000" stroke-width="3.6" stroke-linecap="butt"/>
<line x1="1711" y1="692.8" x2="1718.1" y2="692.8" stroke="#000" stroke-width="3.6" stroke-linecap="butt"/>
<text stroke="#000" stroke-width="0.3" stroke-linejoin="round" transform="translate(1736.8 700) scale(0.985 1)" font-family='"Liberation Serif", serif' font-size="26.6" font-weight="normal" font-style="normal" text-anchor="start">0.8</text>
<line x1="1672.7" y1="819.6" x2="1679.8" y2="819.6" stroke="#000" stroke-width="3.6" stroke-linecap="butt"/>
<line x1="1711" y1="819.6" x2="1718.1" y2="819.6" stroke="#000" stroke-width="3.6" stroke-linecap="butt"/>
<text stroke="#000" stroke-width="0.3" stroke-linejoin="round" transform="translate(1736.8 827) scale(0.985 1)" font-family='"Liberation Serif", serif' font-size="26.6" font-weight="normal" font-style="normal" text-anchor="start">0.6</text>
<line x1="1672.7" y1="946.3" x2="1679.8" y2="946.3" stroke="#000" stroke-width="3.6" stroke-linecap="butt"/>
<line x1="1711" y1="946.3" x2="1718.1" y2="946.3" stroke="#000" stroke-width="3.6" stroke-linecap="butt"/>
<text stroke="#000" stroke-width="0.3" stroke-linejoin="round" transform="translate(1736.8 954) scale(0.985 1)" font-family='"Liberation Serif", serif' font-size="26.6" font-weight="normal" font-style="normal" text-anchor="start">0.4</text>
<line x1="1672.7" y1="1073" x2="1679.8" y2="1073" stroke="#000" stroke-width="3.6" stroke-linecap="butt"/>
<line x1="1711" y1="1073" x2="1718.1" y2="1073" stroke="#000" stroke-width="3.6" stroke-linecap="butt"/>
<text stroke="#000" stroke-width="0.3" stroke-linejoin="round" transform="translate(1736.8 1081) scale(0.985 1)" font-family='"Liberation Serif", serif' font-size="26.6" font-weight="normal" font-style="normal" text-anchor="start">0.2</text>
<text stroke="#000" stroke-width="0.45" stroke-linejoin="round" transform="translate(1371.3 1254.3) scale(0.968 1)" font-family='"Liberation Serif", serif' font-size="26.8" font-weight="bold" font-style="normal" text-anchor="middle">Colistin (μg/mL)</text>
<text stroke="#000" stroke-width="0.45" stroke-linejoin="round" transform="translate(977.9 880) rotate(-90) scale(0.99 1)" font-family='"Liberation Serif", serif' font-size="26.8" font-weight="bold" font-style="normal" text-anchor="middle">Oxethazaine (μg/mL)</text>
</svg>
</body>
</html>
